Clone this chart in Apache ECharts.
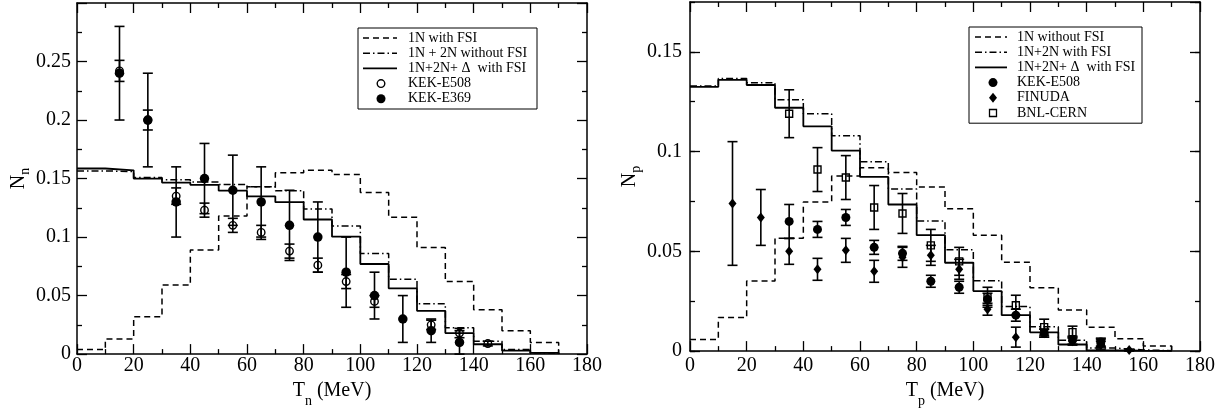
<!DOCTYPE html>
<html lang="en">
<head>
<meta charset="UTF-8">
<title>Nn / Np spectra</title>
<script src="https://cdn.jsdelivr.net/npm/echarts@6/dist/echarts.min.js"></script>
<style>
    html, body {margin: 0; padding: 0; background: #fff;}
    #chart {width: 1228px; height: 413px;}
</style>
</head>
<body>
<div id="chart"></div>
<script>
// histogram bin edges, 10 MeV bins
var binEdges = [0, 10, 20, 30, 40, 50, 60, 70, 80, 90, 100, 110, 120, 130, 140, 150, 160, 170];

// left panel (neutrons)
var nOneN      = [0.004, 0.013, 0.032, 0.059, 0.089, 0.118, 0.143, 0.155, 0.157, 0.1535, 0.138, 0.117, 0.091, 0.062, 0.038, 0.020, 0.010];
var nOneTwoN   = [0.1565, 0.156, 0.151, 0.149, 0.147, 0.145, 0.143, 0.1396, 0.124, 0.1095, 0.086, 0.064, 0.043, 0.0225, 0.011, 0.004, 0.001];
var nFull      = [0.1586, 0.157, 0.150, 0.1466, 0.1446, 0.1396, 0.1348, 0.1298, 0.115, 0.1003, 0.077, 0.0562, 0.037, 0.018, 0.0084, 0.003, 0.001];
var e508nT   = [15, 25, 35, 45, 55, 65, 75, 85, 95, 105, 125, 135, 145];
var e508nVal = [0.242, 0.2, 0.135, 0.123, 0.11, 0.104, 0.088, 0.076, 0.062, 0.045, 0.025, 0.018, 0.009];
var e508nErr = [0.009, 0.0085, 0.007, 0.006, 0.006, 0.006, 0.006, 0.006, 0.006, 0.005, 0.004, 0.004, 0.002];
var e369nT   = [15, 25, 35, 45, 55, 65, 75, 85, 95, 105, 115, 125, 135];
var e369nVal = [0.24, 0.2, 0.13, 0.15, 0.14, 0.13, 0.11, 0.1, 0.07, 0.05, 0.03, 0.02, 0.01];
var e369nErr = [0.04, 0.04, 0.03, 0.03, 0.03, 0.03, 0.03, 0.03, 0.03, 0.02, 0.02, 0.01, 0.01];

// right panel (protons)
var pOneN      = [0.0058, 0.0168, 0.0351, 0.0566, 0.0748, 0.0878, 0.0919, 0.0895, 0.0822, 0.0713, 0.0581, 0.0446, 0.0318, 0.0206, 0.0119, 0.0062, 0.0025];
var pOneTwoN   = [0.1329, 0.1366, 0.1345, 0.126, 0.119, 0.108, 0.0949, 0.0812, 0.0652, 0.0508, 0.0353, 0.0223, 0.0122, 0.0055, 0.0015, 0.0006, 0.0002];
var pFull      = [0.1325, 0.136, 0.1334, 0.122, 0.1127, 0.1005, 0.0873, 0.0735, 0.0581, 0.0443, 0.0301, 0.018, 0.0094, 0.0033, 0.0004, 0.0002, 0.0001];
var kekpT   = [35, 45, 55, 65, 75, 85, 95, 105, 115, 125, 135, 145];
var kekpVal = [0.065, 0.061, 0.067, 0.052, 0.049, 0.035, 0.032, 0.026, 0.018, 0.009, 0.0055, 0.0045];
var kekpErr = [0.0085, 0.004, 0.004, 0.0035, 0.0035, 0.003, 0.003, 0.003, 0.003, 0.002, 0.002, 0.002];
var finT   = [15, 25, 35, 45, 55, 65, 75, 85, 95, 105, 115, 125, 135, 145, 155];
var finVal = [0.074, 0.067, 0.05, 0.041, 0.0505, 0.04, 0.047, 0.048, 0.041, 0.021, 0.007, 0.009, 0.005, 0.003, 0.0005];
var finErr = [0.031, 0.014, 0.0065, 0.0055, 0.006, 0.0055, 0.005, 0.005, 0.005, 0.003, 0.005, 0.002, 0.002, 0.002, 0.0005];
var bnlT   = [35, 45, 55, 65, 75, 85, 95, 105, 115, 125, 135, 145];
var bnlVal = [0.119, 0.091, 0.087, 0.072, 0.069, 0.053, 0.045, 0.027, 0.023, 0.012, 0.0095, 0.004];
var bnlErr = [0.012, 0.011, 0.011, 0.011, 0.01, 0.008, 0.007, 0.005, 0.005, 0.004, 0.003, 0.002];

var xTicks = [0, 180, 20];
var nyTicks = [0, 0.3, 0.05];
var pyTicks = [0, 0.175, 0.05];
var legendLeft = ['1N with FSI', '1N + 2N without FSI', '1N+2N+ \u0394  with FSI', 'KEK-E508', 'KEK-E369'];
var legendRight = ['1N without FSI', '1N+2N with FSI', '1N+2N+ \u0394  with FSI', 'KEK-E508', 'FINUDA', 'BNL-CERN'];

var FONT = '"Liberation Serif", "Times New Roman", serif';
var DASH = [6, 4];
var DASHDOT = [7, 3, 1.5, 3];

function histPoints(vals) {
    var pts = vals.map(function (v, i) { return [binEdges[i], v]; });
    pts.push([binEdges[vals.length], 0]);
    return pts;
}
function histo(vals, dash, width, xi, yi) {
    return {
        type: 'line', step: 'end', symbol: 'none', showSymbol: false, animation: false,
        xAxisIndex: xi, yAxisIndex: yi, z: 2,
        lineStyle: {color: '#000', width: width, type: dash},
        data: histPoints(vals)
    };
}
function errBars(t, v, e, xi, yi) {
    return {
        type: 'custom', xAxisIndex: xi, yAxisIndex: yi, z: 3, animation: false,
        encode: {x: 0, y: [1, 2]},
        data: t.map(function (x, i) { return [x, v[i] - e[i], v[i] + e[i]]; }),
        renderItem: function (params, api) {
            var lo = api.coord([api.value(0), api.value(1)]);
            var hi = api.coord([api.value(0), api.value(2)]);
            var w = 5, st = {stroke: '#000', lineWidth: 1.6};
            return {type: 'group', children: [
                {type: 'line', shape: {x1: lo[0], y1: lo[1], x2: hi[0], y2: hi[1]}, style: st},
                {type: 'line', shape: {x1: lo[0] - w, y1: lo[1], x2: lo[0] + w, y2: lo[1]}, style: st},
                {type: 'line', shape: {x1: hi[0] - w, y1: hi[1], x2: hi[0] + w, y2: hi[1]}, style: st}
            ]};
        }
    };
}
function points(t, v, sym, size, open, xi, yi) {
    return {
        type: 'scatter', xAxisIndex: xi, yAxisIndex: yi, z: 4, animation: false,
        symbol: sym, symbolSize: size,
        itemStyle: open ? {color: 'rgba(0,0,0,0)', borderColor: '#000', borderWidth: 1.4, opacity: 1}
                        : {color: '#000', opacity: 1},
        data: t.map(function (x, i) { return [x, v[i]]; })
    };
}

function xAx(grid, pos, labels, margin, name) {
    return {
        type: 'value', gridIndex: grid, position: pos, min: xTicks[0], max: xTicks[1], interval: xTicks[2],
        axisLine: {show: true, onZero: false, lineStyle: {color: '#000', width: 1.5}},
        axisTick: {show: true, inside: true, length: 10, lineStyle: {color: '#000', width: 1.3}},
        minorTick: {show: true, splitNumber: 2, length: 5, lineStyle: {color: '#000', width: 1.3}},
        splitLine: {show: false},
        axisLabel: {show: labels, color: '#000', fontSize: 20, fontFamily: FONT, margin: margin},
        name: name || '', nameLocation: 'middle', nameGap: 13,
        nameTextStyle: {color: '#000', rich: {
            m: {fontSize: 20, fontFamily: FONT, color: '#000'},
            s: {fontSize: 14, fontFamily: FONT, color: '#000', padding: [20, 0, 0, 0]}
        }}
    };
}
function yAx(grid, pos, ticks, step, tickLen, showLine, labels, margin, name, gap) {
    return {
        type: 'value', gridIndex: grid, position: pos, min: ticks[0], max: ticks[1], interval: step,
        axisLine: {show: showLine, onZero: false, lineStyle: {color: '#000', width: 1.5}},
        axisTick: {show: true, inside: true, length: tickLen, lineStyle: {color: '#000', width: 1.3}},
        minorTick: {show: false},
        splitLine: {show: false},
        axisLabel: {show: labels, showMaxLabel: false, color: '#000', fontSize: 20, fontFamily: FONT, margin: margin},
        name: name || '', nameLocation: 'middle', nameGap: gap || 0,
        nameTextStyle: {color: '#000', rich: {
            m: {fontSize: 20, fontFamily: FONT, color: '#000'},
            s: {fontSize: 14, fontFamily: FONT, color: '#000', padding: [12, 0, 0, 0]}
        }}
    };
}

// legend drawn as plain graphics (line samples + markers + text)
function legendBox(x0, y0, w, rows, labels, sampleX, markX, textX) {
    var els = [{type: 'rect', shape: {x: x0, y: y0, width: w, height: rows.length * 15.2 + 4 + 1},
                style: {fill: '#fff', stroke: '#000', lineWidth: 1}, z: 10}];
    labels.forEach(function (lab, i) {
        var y = y0 + 10 + i * 15.2;
        var kind = rows[i];
        if (kind === 'dash' || kind === 'dashdot' || kind === 'solid') {
            els.push({type: 'line', z: 11, shape: {x1: sampleX[0], y1: y, x2: sampleX[1], y2: y},
                style: {stroke: '#000', lineWidth: kind === 'solid' ? 1.8 : 1.5,
                        lineDash: kind === 'dash' ? DASH : (kind === 'dashdot' ? DASHDOT : null)}});
        } else if (kind === 'open') {
            els.push({type: 'circle', z: 11, shape: {cx: markX, cy: y, r: 3.8}, style: {fill: 'none', stroke: '#000', lineWidth: 1.4}});
        } else if (kind === 'filled') {
            els.push({type: 'circle', z: 11, shape: {cx: markX, cy: y, r: 4.5}, style: {fill: '#000'}});
        } else if (kind === 'diamond') {
            els.push({type: 'polygon', z: 11, shape: {points: [[markX, y - 5], [markX + 4, y], [markX, y + 5], [markX - 4, y]]}, style: {fill: '#000'}});
        } else if (kind === 'square') {
            els.push({type: 'rect', z: 11, shape: {x: markX - 3.5, y: y - 3.5, width: 7, height: 7}, style: {fill: 'none', stroke: '#000', lineWidth: 1.3}});
        }
        els.push({type: 'text', z: 11, style: {text: lab, x: textX, y: y, fill: '#000',
            font: '14px "Liberation Serif", "Times New Roman", serif', verticalAlign: 'middle'}});
    });
    return els;
}

var chart = echarts.init(document.getElementById('chart'));
var option = {
    backgroundColor: '#fff',
    animation: false,
    grid: [
        {left: 77, top: 3, width: 510, height: 357},
        {left: 690, top: 2, width: 510, height: 355}
    ],
    xAxis: [
        xAx(0, 'bottom', true, 2, '{m|T}{s|n}{m| (MeV)}'),
        xAx(0, 'top', false, 2),
        xAx(1, 'bottom', true, 5, '{m|T}{s|p}{m| (MeV)}'),
        xAx(1, 'top', false, 5)
    ],
    yAxis: [
        (function () { var a = yAx(0, 'left', nyTicks, nyTicks[2], 10, true, true, 6, '{m|N}{s|n}', 45);
            a.minorTick = {show: true, splitNumber: 2, length: 5, lineStyle: {color: '#000', width: 1.3}}; return a; })(),
        (function () { var a = yAx(0, 'right', nyTicks, nyTicks[2], 10, true, false, 6);
            a.minorTick = {show: true, splitNumber: 2, length: 5, lineStyle: {color: '#000', width: 1.3}}; return a; })(),
        yAx(1, 'left', pyTicks, pyTicks[2], 10, true, true, 8, '{m|N}{s|p}', 47),
        yAx(1, 'left', pyTicks, pyTicks[2] / 2, 5, false, false, 8),
        yAx(1, 'right', pyTicks, pyTicks[2], 10, true, false, 8),
        yAx(1, 'right', pyTicks, pyTicks[2] / 2, 5, false, false, 8)
    ],
    series: [
        histo(nOneN, DASH, 1.5, 0, 0),
        histo(nOneTwoN, DASHDOT, 1.5, 0, 0),
        histo(nFull, 'solid', 1.8, 0, 0),
        errBars(e508nT, e508nVal, e508nErr, 0, 0),
        errBars(e369nT, e369nVal, e369nErr, 0, 0),
        points(e508nT, e508nVal, 'circle', 7.5, true, 0, 0),
        points(e369nT, e369nVal, 'circle', 9.5, false, 0, 0),

        histo(pOneN, DASH, 1.5, 2, 2),
        histo(pOneTwoN, DASHDOT, 1.5, 2, 2),
        histo(pFull, 'solid', 1.8, 2, 2),
        errBars(kekpT, kekpVal, kekpErr, 2, 2),
        errBars(finT, finVal, finErr, 2, 2),
        errBars(bnlT, bnlVal, bnlErr, 2, 2),
        points(kekpT, kekpVal, 'circle', 9, false, 2, 2),
        points(finT, finVal, 'diamond', [8, 10], false, 2, 2),
        points(bnlT, bnlVal, 'rect', 7, true, 2, 2)
    ],
    graphic: legendBox(358, 28, 179, ['dash', 'dashdot', 'solid', 'open', 'filled'], legendLeft, [363, 397], 381, 408)
        .concat(legendBox(969, 27, 173, ['dash', 'dashdot', 'solid', 'filled', 'diamond', 'square'], legendRight, [975, 1007], 993, 1017))
};
chart.setOption(option);
</script>
</body>
</html>
